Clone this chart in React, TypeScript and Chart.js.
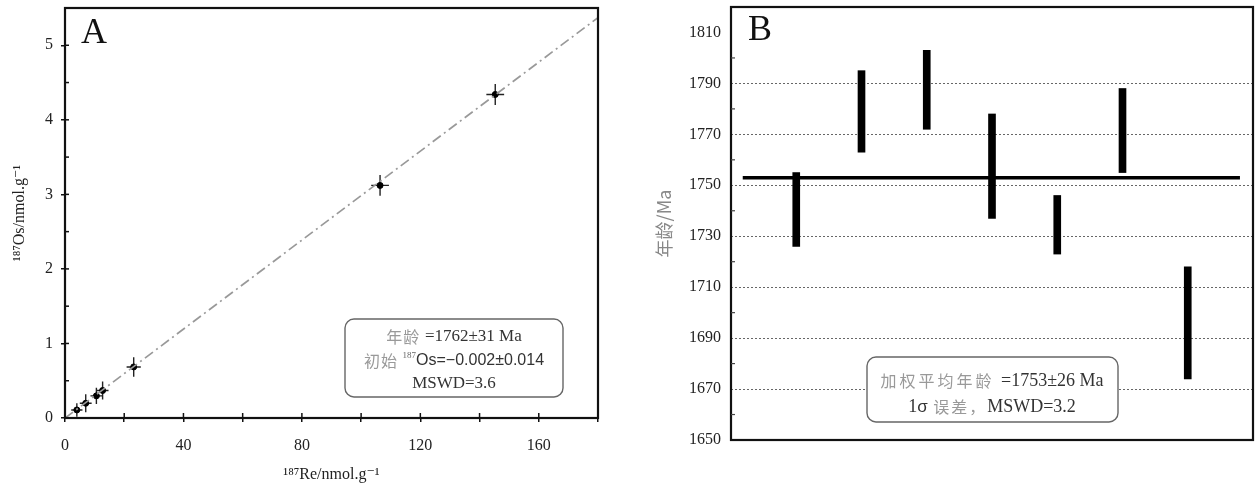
import React, { useEffect, useRef } from 'react';
import { Chart, registerables } from 'chart.js';
Chart.register(...registerables);

// ---------- Panel A: Re-Os isochron ----------
const reConc = [4.0, 7.0, 10.6, 12.7, 23.2, 106.4, 145.3];
const osConc = [0.108, 0.198, 0.297, 0.369, 0.685, 3.12, 4.34];
const reErr = [1.9, 2.0, 2.0, 2.0, 2.4, 3.0, 3.0];
const osErr = [0.09, 0.12, 0.11, 0.12, 0.13, 0.14, 0.14];
const isoSlope = 0.02985;
const isoIntercept = -0.002;
const xRangeA = [0, 180];
const yRangeA = [0, 5.5];
const xTickLabelsA = [0, 40, 80, 120, 160];
const yTickLabelsA = [0, 1, 2, 3, 4, 5];

// ---------- Panel B: weighted mean ages ----------
const sampleNo = [1, 2, 3, 4, 5, 6, 7];
const ageLow = [1726, 1763, 1772, 1737, 1723, 1755, 1674];
const ageHigh = [1755, 1795, 1803, 1778, 1746, 1788, 1718];
const meanAge = 1753;
const meanSpan = [0.18, 7.8];
const xRangeB = [0, 8];
const yRangeB = [1650, 1820];
const yTickLabelsB = [1650, 1670, 1690, 1710, 1730, 1750, 1770, 1790, 1810];
const gridValuesB = [1670, 1690, 1710, 1730, 1750, 1770, 1790];

const SERIF = "'Liberation Serif', 'DejaVu Serif', serif";
const SANS = "'Liberation Sans', Arial, sans-serif";
const CJK = "'Noto Sans CJK SC', sans-serif";

type Run = { text: string; font: string; color: string; dy?: number; ls?: string };

function drawRuns(ctx: CanvasRenderingContext2D, runs: Run[], cx: number, cy: number) {
  let total = 0;
  for (const r of runs) {
    ctx.font = r.font;
    (ctx as any).letterSpacing = r.ls || '0px';
    total += ctx.measureText(r.text).width;
  }
  let x = cx - total / 2;
  ctx.textBaseline = 'middle';
  ctx.textAlign = 'left';
  for (const r of runs) {
    ctx.font = r.font;
    (ctx as any).letterSpacing = r.ls || '0px';
    ctx.fillStyle = r.color;
    ctx.fillText(r.text, x, cy + (r.dy || 0));
    x += ctx.measureText(r.text).width;
  }
  (ctx as any).letterSpacing = '0px';
}

const noPad = (s: any) => {
  s.paddingTop = 0;
  s.paddingBottom = 0;
  s.paddingLeft = 0;
  s.paddingRight = 0;
};

const framePlugin = {
  id: 'frame',
  afterDraw(chart: any) {
    const { ctx, chartArea: ca } = chart;
    ctx.save();
    ctx.strokeStyle = '#111';
    ctx.lineWidth = 2.2;
    ctx.strokeRect(ca.left, ca.top, ca.right - ca.left, ca.bottom - ca.top);
    ctx.restore();
  },
};

const innerTicksA = {
  id: 'innerTicksA',
  afterDraw(chart: any) {
    const { ctx, chartArea: ca, scales } = chart;
    ctx.save();
    ctx.strokeStyle = '#111';
    ctx.lineWidth = 1.5;
    scales.x.ticks.forEach((t: any) => {
      const px = scales.x.getPixelForValue(t.value);
      if (t.value <= xRangeA[0] || t.value >= xRangeA[1]) return;
      ctx.beginPath();
      ctx.moveTo(px, ca.bottom);
      ctx.lineTo(px, ca.bottom - 5);
      ctx.stroke();
    });
    scales.y.ticks.forEach((t: any) => {
      const py = scales.y.getPixelForValue(t.value);
      if (t.value <= yRangeA[0] || t.value >= yRangeA[1]) return;
      ctx.beginPath();
      ctx.moveTo(ca.left, py);
      ctx.lineTo(ca.left + 4, py);
      ctx.stroke();
    });
    ctx.restore();
  },
};

const errorBarsA = {
  id: 'errorBarsA',
  beforeDatasetsDraw(chart: any) {
    const { ctx, scales } = chart;
    const xs = scales.x, ys = scales.y;
    ctx.save();
    ctx.strokeStyle = '#222';
    ctx.lineWidth = 1.4;
    reConc.forEach((re, i) => {
      const os = osConc[i];
      ctx.beginPath();
      ctx.moveTo(xs.getPixelForValue(re - reErr[i]), ys.getPixelForValue(os));
      ctx.lineTo(xs.getPixelForValue(re + reErr[i]), ys.getPixelForValue(os));
      ctx.moveTo(xs.getPixelForValue(re), ys.getPixelForValue(os - osErr[i]));
      ctx.lineTo(xs.getPixelForValue(re), ys.getPixelForValue(os + osErr[i]));
      ctx.stroke();
    });
    ctx.restore();
  },
};

const annotA = {
  id: 'annotA',
  afterDraw(chart: any) {
    const { ctx } = chart;
    ctx.save();
    ctx.fillStyle = '#111';
    ctx.font = `36px ${SERIF}`;
    ctx.textBaseline = 'alphabetic';
    ctx.textAlign = 'left';
    ctx.fillText('A', 81, 43);
    ctx.beginPath();
    (ctx as any).roundRect(345, 319, 218, 78, 9);
    ctx.fillStyle = '#fff';
    ctx.fill();
    ctx.strokeStyle = '#666';
    ctx.lineWidth = 1.4;
    ctx.stroke();
    const cx = 454;
    drawRuns(ctx, [
      { text: '年龄 ', font: `16px ${CJK}`, color: '#999', ls: '1px' },
      { text: '=1762±31 Ma', font: `17px ${SERIF}`, color: '#333' },
    ], cx, 337);
    drawRuns(ctx, [
      { text: '初始 ', font: `16px ${CJK}`, color: '#999', ls: '1px' },
      { text: '187', font: `9px ${SERIF}`, color: '#666', dy: -5 },
      { text: 'Os=−0.002±0.014', font: `16px ${SANS}`, color: '#333' },
    ], cx, 361);
    drawRuns(ctx, [
      { text: 'MSWD=3.6', font: `17px ${SERIF}`, color: '#333' },
    ], cx, 384);
    ctx.restore();
  },
};

const annotB = {
  id: 'annotB',
  afterDraw(chart: any) {
    const { ctx } = chart;
    ctx.save();
    ctx.fillStyle = '#111';
    ctx.font = `36px ${SERIF}`;
    ctx.textBaseline = 'alphabetic';
    ctx.textAlign = 'left';
    ctx.fillText('B', 118, 40);
    ctx.beginPath();
    (ctx as any).roundRect(237, 357, 251, 65, 9);
    ctx.fillStyle = '#fff';
    ctx.fill();
    ctx.strokeStyle = '#666';
    ctx.lineWidth = 1.4;
    ctx.stroke();
    const cx = 362;
    drawRuns(ctx, [
      { text: '加权平均年龄 ', font: `16px ${CJK}`, color: '#999', ls: '3px' },
      { text: '=1753±26 Ma', font: `18px ${SERIF}`, color: '#333' },
    ], cx, 381);
    drawRuns(ctx, [
      { text: '1', font: `18px ${SERIF}`, color: '#333' },
      { text: 'σ', font: `17px ${SANS}`, color: '#333' },
      { text: ' 误差，', font: `16px ${CJK}`, color: '#999', ls: '2px' },
      { text: 'MSWD=3.2', font: `18px ${SERIF}`, color: '#333' },
    ], cx, 407);
    ctx.restore();
  },
};

const innerTicksB = {
  id: 'innerTicksB',
  afterDraw(chart: any) {
    const { ctx, chartArea: ca, scales } = chart;
    ctx.save();
    ctx.strokeStyle = '#444';
    ctx.lineWidth = 1.2;
    scales.y.ticks.forEach((t: any) => {
      if (yTickLabelsB.includes(t.value) || t.value >= yRangeB[1]) return;
      const py = scales.y.getPixelForValue(t.value);
      ctx.beginPath();
      ctx.moveTo(ca.left, py);
      ctx.lineTo(ca.left + 4, py);
      ctx.stroke();
    });
    ctx.restore();
  },
};

function PanelA() {
  const ref = useRef<HTMLCanvasElement>(null);
  useEffect(() => {
    const fitLine = xRangeA.map((x) => ({ x, y: isoIntercept + isoSlope * x }));
    const chart = new Chart(ref.current!, {
      type: 'scatter',
      data: {
        datasets: [
          {
            type: 'line',
            data: fitLine,
            borderColor: '#999',
            borderWidth: 1.7,
            borderDash: [10, 4, 2, 4],
            pointRadius: 0,
            fill: false,
          } as any,
          {
            data: reConc.map((x, i) => ({ x, y: osConc[i] })),
            backgroundColor: '#000',
            borderColor: '#000',
            pointRadius: 3,
            pointStyle: 'circle',
          },
        ],
      },
      options: {
        animation: false,
        responsive: false,
        events: [],
        layout: { padding: { left: 0, top: 8, right: 22, bottom: 0 } },
        plugins: { legend: { display: false }, tooltip: { enabled: false } },
        scales: {
          x: {
            type: 'linear',
            min: xRangeA[0],
            max: xRangeA[1],
            afterFit: (s: any) => { s.height = 70; noPad(s); },
            ticks: {
              stepSize: 20,
              autoSkip: false,
              maxRotation: 0,
              padding: 14,
              color: '#222',
              font: { family: SERIF, size: 16 },
              callback: (v: any) => (xTickLabelsA.includes(v) ? String(v) : ''),
            },
            grid: { drawOnChartArea: false, tickLength: 4, color: '#111', lineWidth: 1.5 },
            border: { display: false },
            title: {
              display: true,
              text: '¹⁸⁷Re/nmol.g⁻¹',
              color: '#222',
              font: { family: SERIF, size: 16 },
              padding: { top: 0, bottom: 4 },
            },
          },
          y: {
            type: 'linear',
            min: yRangeA[0],
            max: yRangeA[1],
            afterFit: (s: any) => { s.width = 65; noPad(s); },
            ticks: {
              stepSize: 0.5,
              autoSkip: false,
              padding: 8,
              color: '#222',
              font: { family: SERIF, size: 16 },
              callback: (v: any) => (yTickLabelsA.includes(v) ? String(v) : ''),
            },
            grid: {
              drawOnChartArea: false,
              tickLength: 4,
              color: (c: any) => (yTickLabelsA.includes(c.tick?.value) ? '#111' : 'transparent'),
              lineWidth: 1.5,
            },
            border: { display: false },
            title: {
              display: true,
              text: '¹⁸⁷Os/nmol.g⁻¹',
              color: '#222',
              font: { family: SERIF, size: 16 },
              padding: { top: 10, bottom: 0 },
            },
          },
        },
      },
      plugins: [errorBarsA, framePlugin, innerTicksA, annotA],
    } as any);
    return () => chart.destroy();
  }, []);
  return <canvas ref={ref} width={620} height={488} style={{ position: 'absolute', left: 0, top: 0 }} />;
}

function PanelB() {
  const ref = useRef<HTMLCanvasElement>(null);
  useEffect(() => {
    const chart = new Chart(ref.current!, {
      type: 'bar',
      data: {
        datasets: [
          {
            type: 'line',
            data: meanSpan.map((x) => ({ x, y: meanAge })),
            borderColor: '#000',
            borderWidth: 3.5,
            pointRadius: 0,
            fill: false,
            order: 0,
          } as any,
          {
            type: 'bar',
            data: sampleNo.map((x, i) => ({ x, y: [ageLow[i], ageHigh[i]] })),
            backgroundColor: '#000',
            borderWidth: 0,
            barThickness: 7,
            order: 1,
          },
        ],
      },
      options: {
        animation: false,
        responsive: false,
        events: [],
        layout: { padding: { left: 0, top: 7, right: 3, bottom: 48 } },
        plugins: { legend: { display: false }, tooltip: { enabled: false } },
        scales: {
          x: { type: 'linear', min: xRangeB[0], max: xRangeB[1], offset: false, display: false },
          y: {
            type: 'linear',
            min: yRangeB[0],
            max: yRangeB[1],
            afterFit: (s: any) => { s.width = 101; noPad(s); },
            ticks: {
              stepSize: 10,
              autoSkip: false,
              padding: 10,
              color: '#222',
              font: { family: SERIF, size: 16 },
              callback: (v: any) => (yTickLabelsB.includes(v) ? String(v) : ''),
            },
            grid: {
              drawTicks: false,
              color: (c: any) => (gridValuesB.includes(c.tick?.value) ? '#666' : 'transparent'),
              lineWidth: 1,
            },
            border: { display: false, dash: [2, 2] },
            title: {
              display: true,
              text: '年龄/Ma',
              color: '#888',
              font: { family: CJK, size: 18 },
              padding: { top: 23, bottom: 0 },
            },
          },
        },
      },
      plugins: [framePlugin, innerTicksB, annotB],
    } as any);
    return () => chart.destroy();
  }, []);
  return <canvas ref={ref} width={626} height={488} style={{ position: 'absolute', left: 630, top: 0 }} />;
}

export default function App() {
  return (
    <div style={{ position: 'absolute', left: 0, top: 0, width: 1256, height: 488, background: '#fff', overflow: 'hidden' }}>
      <PanelA />
      <PanelB />
    </div>
  );
}
